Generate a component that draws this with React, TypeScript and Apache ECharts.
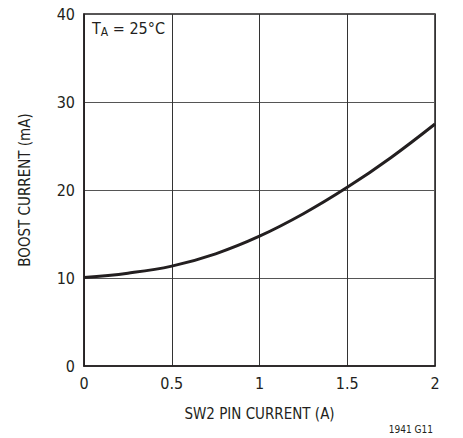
import React, { useEffect, useRef } from "react";
import * as echarts from "echarts";

const xValues = [0, 0.25, 0.5, 0.75, 1, 1.25, 1.5, 1.75, 2];
const boostCurrent = [10.05, 10.55, 11.35, 12.75, 14.75, 17.3, 20.3, 23.7, 27.5];
const xTicks = [0, 0.5, 1, 1.5, 2];
const yTicks = [0, 10, 20, 30, 40];

const FONT = "'Liberation Sans Narrow', 'DejaVu Sans Condensed', 'Roboto Condensed', sans-serif";

export default function App() {
  const ref = useRef<HTMLDivElement>(null);
  useEffect(() => {
    document.body.style.margin = "0";
    if (!ref.current) return;
    const chart = echarts.init(ref.current, null, { renderer: "svg" });
    chart.setOption({
      animation: false,
      backgroundColor: "#ffffff",
      grid: {
        left: 84,
        right: 28,
        top: 14,
        bottom: 72,
        show: true,
        borderColor: "#231f20",
        borderWidth: 1.5,
        backgroundColor: "transparent",
      },
      xAxis: {
        type: "value",
        min: xTicks[0],
        max: xTicks[xTicks.length - 1],
        interval: 0.5,
        name: "SW2 PIN CURRENT (A)",
        nameLocation: "middle",
        nameGap: 40,
        nameTextStyle: { fontFamily: FONT, fontSize: 15, color: "#231f20" },
        axisLine: { show: true, lineStyle: { color: "#231f20", width: 1.5 } },
        axisTick: { show: false },
        axisLabel: {
          fontFamily: FONT,
          fontSize: 16,
          color: "#231f20",
          margin: 9,
          formatter: (v: number) => String(v),
        },
        splitLine: { show: true, lineStyle: { color: "#333333", width: 1 } },
      },
      yAxis: {
        type: "value",
        min: yTicks[0],
        max: yTicks[yTicks.length - 1],
        interval: 10,
        name: "BOOST CURRENT (mA)",
        nameLocation: "middle",
        nameGap: 52,
        nameTextStyle: { fontFamily: FONT, fontSize: 15, color: "#231f20" },
        axisLine: { show: true, lineStyle: { color: "#231f20", width: 1.5 } },
        axisTick: { show: false },
        axisLabel: {
          fontFamily: FONT,
          fontSize: 16,
          color: "#231f20",
          margin: 9,
        },
        splitLine: { show: true, lineStyle: { color: "#555555", width: 1 } },
      },
      series: [
        {
          type: "line",
          data: xValues.map((x, i) => [x, boostCurrent[i]]),
          smooth: 0.4,
          showSymbol: false,
          lineStyle: { color: "#231f20", width: 3 },
          silent: true,
        },
      ],
      graphic: [
        {
          type: "text",
          left: 92,
          top: 20,
          style: {
            text: "{t|T}{s|A}{t| = 25°C}",
            rich: {
              t: { fontFamily: FONT, fontSize: 16, fill: "#231f20", verticalAlign: "top", lineHeight: 18 },
              s: { fontFamily: FONT, fontSize: 12, fill: "#231f20", padding: [6, 0, 0, 0], lineHeight: 18 },
            },
          },
        },
        {
          type: "text",
          right: 30,
          top: 424,
          style: {
            text: "1941 G11",
            fontFamily: FONT,
            fontSize: 10,
            fill: "#231f20",
          },
        },
      ],
    });
    return () => chart.dispose();
  }, []);
  return <div ref={ref} style={{ width: 463, height: 438 }} />;
}
